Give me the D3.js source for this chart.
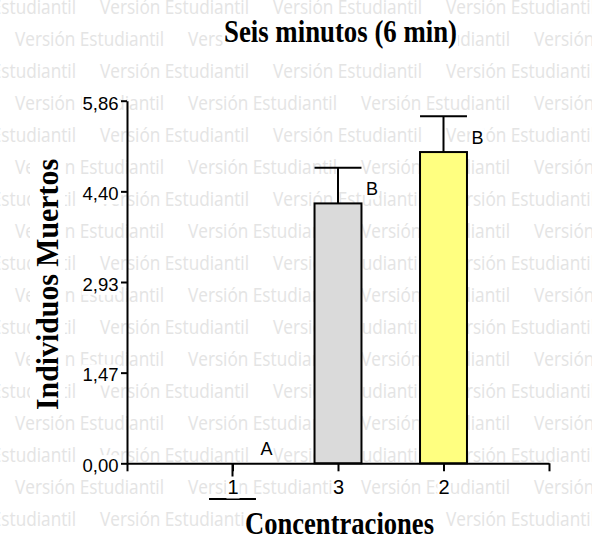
<!DOCTYPE html>
<html>
<head>
<meta charset="utf-8">
<script src="https://cdn.jsdelivr.net/npm/d3@7"></script>
<style>
  html, body { margin: 0; padding: 0; background: #ffffff; }
  svg { display: block; }
</style>
</head>
<body>
<script>
// Mean number of dead individuals per concentration, six-minute exposure
const categories = ["1", "3", "2"];
const means = [0, 4.20, 5.03];
const errors = [0.577, 0.577, 0.577];
const groupLetters = ["A", "B", "B"];
const barColors = ["#ffffff", "#dadada", "#ffff80"];
const yTickValues = [0, 1.465, 2.93, 4.395, 5.86];
const yTickLabels = ["0,00", "1,47", "2,93", "4,40", "5,86"];
const chartTitle = "Seis minutos (6 min)";
const yTitle = "Individuos Muertos";
const xTitle = "Concentraciones";
const watermarkText = "Versión Estudiantil";

const W = 592, H = 540;
const plot = { left: 127, right: 549, top: 100.7, bottom: 463.3 };

const svg = d3.select("body").append("svg")
  .attr("width", W).attr("height", H)
  .attr("viewBox", `0 0 ${W} ${H}`);

svg.append("rect").attr("width", W).attr("height", H).attr("fill", "#ffffff");

// Repeated background stamp
const wm = svg.append("g")
  .attr("font-family", "'Open Sans', 'Noto Sans', sans-serif")
  .attr("font-size", 20.5)
  .attr("fill", "#e4e4e4");
for (let k = 0; k <= 16; k++) {
  const y = 13.5 + 32.06 * k;
  const start = k % 2 === 0 ? -73 : 15;
  for (let x = start; x < W; x += 173) {
    wm.append("text")
      .attr("x", x).attr("y", y)
      .attr("textLength", 149)
      .attr("lengthAdjust", "spacingAndGlyphs")
      .text(watermarkText);
  }
}

// Scales: categories sit on interior points, with an empty slot at each end
const xDomain = ["__start", ...categories, "__end"];
const x = d3.scalePoint().domain(xDomain).range([plot.left, plot.right]).padding(0);
const y = d3.scaleLinear().domain([0, 5.86]).range([plot.bottom, plot.top]);
const barW = x.step() * 0.445;

// White backing behind a text node so the stamp does not show through
function backText(sel, pad = 1) {
  sel.each(function () {
    const b = this.getBBox();
    d3.select(this.parentNode).insert("rect", () => this)
      .attr("x", b.x - pad).attr("y", b.y)
      .attr("width", b.width + 2 * pad).attr("height", b.height)
      .attr("fill", "#ffffff")
      .attr("transform", d3.select(this).attr("transform"));
  });
}

const data = categories.map((c, i) => ({
  cat: c, mean: means[i], err: errors[i], letter: groupLetters[i], color: barColors[i]
}));

// Bars
svg.append("g").selectAll("rect")
  .data(data.filter(d => d.mean > 0))
  .join("rect")
  .attr("x", d => x(d.cat) - barW / 2)
  .attr("y", d => y(d.mean))
  .attr("width", barW)
  .attr("height", d => y(0) - y(d.mean))
  .attr("fill", d => d.color)
  .attr("stroke", "#000")
  .attr("stroke-width", 2);

// Error bars (upward from a bar, downward from an empty group)
const eb = svg.append("g").attr("stroke", "#000").attr("stroke-width", 2);
data.forEach(d => {
  const end = d.mean > 0 ? d.mean + d.err : d.mean - d.err;
  const cx = x(d.cat);
  eb.append("line").attr("x1", cx).attr("x2", cx).attr("y1", y(d.mean)).attr("y2", y(end));
  eb.append("line").attr("x1", cx - barW / 2).attr("x2", cx + barW / 2).attr("y1", y(end)).attr("y2", y(end));
});

// Axes
const xAxis = d3.axisBottom(x)
  .tickSize(8).tickSizeOuter(0).tickPadding(9)
  .tickFormat(d => categories.includes(d) ? d : "");
const gx = svg.append("g")
  .attr("transform", `translate(0,${plot.bottom})`)
  .call(xAxis);
gx.selectAll("text")
  .attr("font-family", "'Liberation Sans', Arial, sans-serif")
  .attr("font-size", 20).attr("fill", "#000");

const yAxis = d3.axisLeft(y)
  .tickValues(yTickValues)
  .tickFormat((d, i) => yTickLabels[i])
  .tickSize(6).tickSizeOuter(0).tickPadding(2.5);
const gy = svg.append("g")
  .attr("transform", `translate(${plot.left},0)`)
  .call(yAxis);
gy.selectAll("text")
  .attr("font-family", "'Liberation Sans', Arial, sans-serif")
  .attr("font-size", 18.5).attr("fill", "#000")
  .attr("dy", "0.45em");

[gx, gy].forEach(g => {
  g.selectAll("path.domain").attr("stroke", "#000").attr("stroke-width", 2);
  g.selectAll(".tick line").attr("stroke", "#000").attr("stroke-width", 2);
});
backText(gx.selectAll(".tick text").filter(function () { return this.textContent !== ""; }));
backText(gy.selectAll(".tick text"));

// Group letters
const letters = svg.append("g")
  .attr("font-family", "'Liberation Sans', Arial, sans-serif")
  .attr("font-size", 18).attr("fill", "#000");
letters.selectAll("text")
  .data(data)
  .join("text")
  .attr("x", d => x(d.cat) + 28)
  .attr("y", d => y(d.mean) - 8)
  .text(d => d.letter);
backText(letters.selectAll("text"));

// Titles
const titles = svg.append("g")
  .attr("font-family", "'Liberation Serif', 'Times New Roman', serif")
  .attr("font-weight", "bold")
  .attr("font-size", 31)
  .attr("fill", "#000");

titles.append("text")
  .attr("x", 340.5).attr("y", 42)
  .attr("text-anchor", "middle")
  .attr("textLength", 233).attr("lengthAdjust", "spacingAndGlyphs")
  .text(chartTitle);

titles.append("text")
  .attr("x", 339.5).attr("y", 534)
  .attr("text-anchor", "middle")
  .attr("textLength", 189).attr("lengthAdjust", "spacingAndGlyphs")
  .text(xTitle);

titles.append("text")
  .attr("transform", "translate(58,284.5) rotate(-90)")
  .attr("text-anchor", "middle")
  .attr("textLength", 251).attr("lengthAdjust", "spacingAndGlyphs")
  .text(yTitle);

backText(titles.selectAll("text"));
</script>
</body>
</html>
